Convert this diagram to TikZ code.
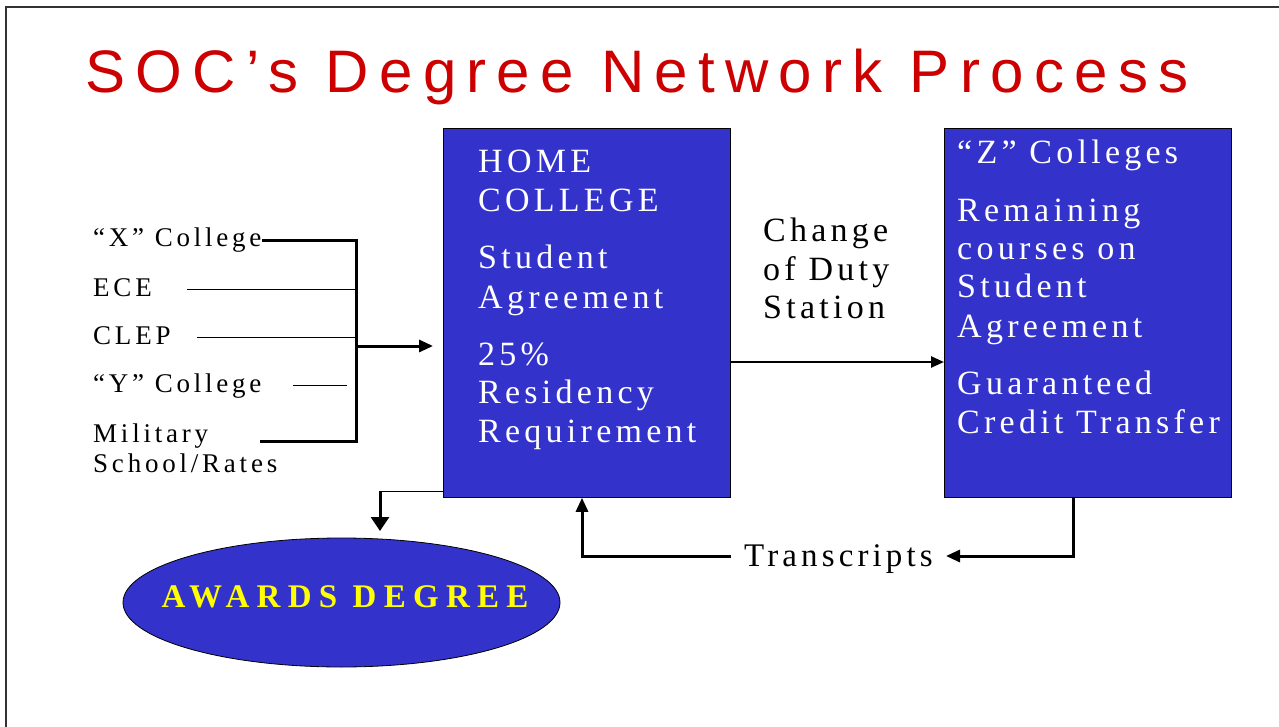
\documentclass[tikz,border=0pt]{standalone}
\usepackage{fontspec}
\setmainfont{Liberation Serif}
\newfontfamily\titlefont{Liberation Sans}[LetterSpace=17.2]
\newfontfamily\boxfont{Liberation Serif}[LetterSpace=12.5]
\newfontfamily\labfont{Liberation Serif}[LetterSpace=14]
\newfontfamily\awfont{Liberation Serif}[LetterSpace=22]
\usetikzlibrary{arrows.meta,shapes.geometric}
\definecolor{boxblue}{HTML}{3333CC}
\definecolor{titlered}{HTML}{CC0000}
\definecolor{awyellow}{HTML}{FFFF00}
\definecolor{framegray}{HTML}{333333}
\begin{document}
\begin{tikzpicture}[x=1pt,y=-1pt,
  bluebox/.style={draw=black,line width=0.8pt,fill=boxblue,inner sep=0pt,anchor=north west},
  boxtxt/.style={anchor=base west,inner sep=0pt,text=white,font=\boxfont\fontsize{34}{40}\selectfont},
  blktxt/.style={anchor=base west,inner sep=0pt,text=black,font=\boxfont\fontsize{34}{40}\selectfont},
  labtxt/.style={anchor=base west,inner sep=0pt,text=black,font=\labfont\fontsize{27}{31}\selectfont},
  thickln/.style={draw=black,line width=3pt},
  thinln/.style={draw=black,line width=1pt},
  medln/.style={draw=black,line width=2.4pt},
  tip/.style={-{Triangle[length=14pt,width=12pt]}},
  bigtip/.style={-{Triangle[length=14pt,width=18pt]}}
]
\useasboundingbox (0,0) rectangle (1279,727);
\fill[white] (0,0) rectangle (1279,727);
\draw[framegray,line width=1.6pt] (6,727) -- (6,7) -- (1279,7);

% title
\node[anchor=base west,inner sep=0pt,text=titlered,font=\titlefont\fontsize{60}{70}\selectfont] (title) at (85,93) {SOC’s Degree Network Process};

% boxes
\node[bluebox,minimum width=287pt,minimum height=369pt] (home) at (443,128) {};
\node[bluebox,minimum width=287pt,minimum height=369pt] (zc) at (944,128) {};

% home text
\node[boxtxt] (h1) at (478,173) {HOME};
\node[boxtxt] (h2) at (478,212) {COLLEGE};
\node[boxtxt] (h3) at (478,269) {Student};
\node[boxtxt] (h4) at (478,308) {Agreement};
\node[boxtxt] (h5) at (478,365) {25\%};
\node[boxtxt] (h6) at (478,403) {Residency};
\node[boxtxt] (h7) at (478,442) {Requirement};

% Z text
\node[boxtxt] (z1) at (957,164) {“Z” Colleges};
\node[boxtxt] (z2) at (957,222) {Remaining};
\node[boxtxt] (z3) at (957,260) {courses on};
\node[boxtxt] (z4) at (957,298) {Student};
\node[boxtxt] (z5) at (957,337) {Agreement};
\node[boxtxt] (z6) at (957,394) {Guaranteed};
\node[boxtxt] (z7) at (957,433) {Credit Transfer};

% change of duty station
\node[blktxt] (c1) at (763,242) {Change};
\node[blktxt] (c2) at (763,280) {of Duty};
\node[blktxt] (c3) at (763,318) {Station};

% left labels
\node[labtxt] (lx) at (93,247) {“X” College};
\node[labtxt] (le) at (93,296) {ECE};
\node[labtxt] (lc) at (93,344) {CLEP};
\node[labtxt] (ly) at (93,392) {“Y” College};
\node[labtxt] (lm) at (93,442) {Military};
\node[labtxt] (ls) at (93,472) {School/Rates};

% left bracket
\coordinate (xs) at (262,241);
\coordinate (bt) at (356,241);
\coordinate (bb) at (356,441);
\coordinate (ms) at (260,441);
\coordinate (es) at (187,289);
\coordinate (ee) at (356,289);
\coordinate (cs) at (197,337);
\coordinate (ce) at (356,337);
\coordinate (ys) at (293,385);
\coordinate (ye) at (347,385);
\coordinate (bm) at (356,346);
\coordinate (inarr) at (433,346);
\draw[thickln] (xs) -- (bt) -- (bb) -- (ms);
\draw[thinln] (es) -- (ee);
\draw[thinln] (cs) -- (ce);
\draw[thinln] (ys) -- (ye);
\draw[thickln,tip] (bm) -- (inarr);

% home -> Z
\draw[medln,-{Triangle[length=13pt,width=11pt]}] (home.east |- 0,362) -- (zc.west |- 0,362);

% awards degree
\node[ellipse,draw=black,line width=0.8pt,fill=boxblue,minimum width=437pt,minimum height=129pt,inner sep=0pt] (award) at (341.5,602.5) {};
\node[anchor=base,inner sep=0pt,text=awyellow,font=\awfont\bfseries\fontsize{33}{38}\selectfont] (awt) at (345,607) {AWARDS DEGREE};
\coordinate (dturn) at (380,491);
\coordinate (dtip) at (380,531);
\draw[thinln] (home.south west |- 0,491) -- (dturn);
\draw[thickln,bigtip] (dturn) -- (dtip);

% transcripts
\node[anchor=base west,inner sep=0pt,text=black,font=\boxfont\fontsize{33}{38}\selectfont] (trans) at (744,566) {Transcripts};
\coordinate (zt) at (1073,556);
\coordinate (ttip) at (946,556);
\coordinate (tl) at (731,556);
\coordinate (hl) at (582,556);
\draw[thickln,tip] (zc.south -| zt) -- (zt) -- (ttip);
\draw[thickln,tip] (tl) -- (hl) -- (home.south -| hl);
\end{tikzpicture}
\end{document}
